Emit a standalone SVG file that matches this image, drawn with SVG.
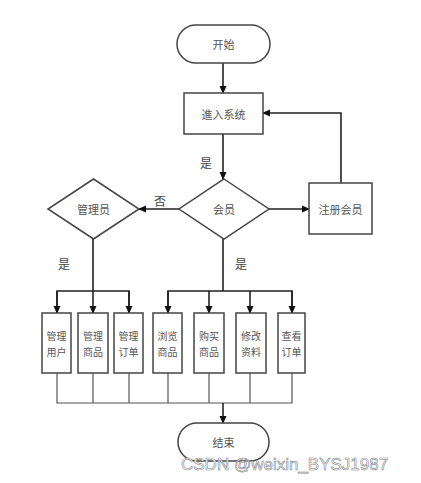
<svg xmlns="http://www.w3.org/2000/svg" width="421" height="483" viewBox="0 0 421 483">
<defs>
<marker id="ah" markerWidth="8" markerHeight="8" refX="7" refY="4" orient="auto" markerUnits="userSpaceOnUse">
<path d="M0,0.5 L8,4 L0,7.5 Z" fill="#111"/>
</marker>
<style>
.shape{fill:#fff;stroke:#444;stroke-width:1.5}
.t{font-family:"Noto Sans CJK SC","Liberation Sans",sans-serif;font-size:11px;fill:#555;text-anchor:middle;dominant-baseline:central}
.t2{font-family:"Noto Sans CJK SC","Liberation Sans",sans-serif;font-size:10px;fill:#555;text-anchor:middle;dominant-baseline:central}
.lbl{font-family:"Noto Sans CJK SC","Liberation Serif",serif;font-size:12px;fill:#444;text-anchor:middle;dominant-baseline:central}
.ln{fill:none;stroke:#222;stroke-width:1.6}
.ln2{fill:none;stroke:#555;stroke-width:1.2}
.arr{fill:none;stroke:#222;stroke-width:1.6;marker-end:url(#ah)}
.wm{font-family:"Liberation Sans",Arial,sans-serif;font-size:17px;fill:#fff;stroke:#888;stroke-width:0.6}
</style>
</defs>
<rect width="421" height="483" fill="#fff"/>
<g id="connectors">
<path class="arr" d="M223,63 V93"/>
<path class="arr" d="M223,134 V179"/>
<path class="arr" d="M179,209 H139"/>
<path class="arr" d="M269,209 H309"/>
<path class="arr" d="M341,183 V113 H263"/>
<path class="ln" d="M93,239 V291"/>
<path class="ln" d="M57,313 V291 H129 V313"/>
<path class="arr" d="M57,291 V313"/>
<path class="arr" d="M93,291 V313"/>
<path class="arr" d="M129,291 V313"/>
<path class="ln" d="M223,239 V291"/>
<path class="ln" d="M168,313 V291 H292 V313"/>
<path class="arr" d="M168,291 V313"/>
<path class="arr" d="M209,291 V313"/>
<path class="arr" d="M250,291 V313"/>
<path class="arr" d="M292,291 V313"/>
<path class="ln2" d="M57,373 V403 H292 V373 M93,373 V403 M129,373 V403 M168,373 V403 M209,373 V403 M250,373 V403"/>
<path class="arr" d="M223,403 V423"/>
<text class="lbl" x="206" y="162">是</text>
<text class="lbl" x="160" y="200">否</text>
<text class="lbl" x="64" y="263">是</text>
<text class="lbl" x="241" y="263">是</text>
</g>
<g id="start"><rect class="shape" x="177" y="25" width="93" height="38" rx="19"/><text class="t" x="223.5" y="44">开始</text></g>
<g id="enter"><rect class="shape" x="184" y="93" width="79" height="41"/><text class="t" x="223.5" y="113.5">進入系统</text></g>
<g id="member"><polygon class="shape" points="224,179 269,209 224,239 179,209"/><text class="t" x="224" y="209">会员</text></g>
<g id="admin"><polygon class="shape" points="93.5,179 139,209 93.5,239 48,209"/><text class="t" x="93.5" y="209">管理员</text></g>
<g id="register"><rect class="shape" x="309" y="183" width="63" height="51"/><text class="t" x="340.5" y="208.5">注册会员</text></g>
<g id="manage-users"><rect class="shape" x="42" y="313" width="29" height="60"/><text class="t2" x="56.5" y="335">管理</text><text class="t2" x="56.5" y="351">用户</text></g>
<g id="manage-goods"><rect class="shape" x="78" y="313" width="30" height="60"/><text class="t2" x="93" y="335">管理</text><text class="t2" x="93" y="351">商品</text></g>
<g id="manage-orders"><rect class="shape" x="114" y="313" width="29" height="60"/><text class="t2" x="128.5" y="335">管理</text><text class="t2" x="128.5" y="351">订单</text></g>
<g id="browse"><rect class="shape" x="153" y="313" width="29" height="60"/><text class="t2" x="167.5" y="335">浏览</text><text class="t2" x="167.5" y="351">商品</text></g>
<g id="buy"><rect class="shape" x="194" y="313" width="30" height="60"/><text class="t2" x="209" y="335">购买</text><text class="t2" x="209" y="351">商品</text></g>
<g id="edit"><rect class="shape" x="236" y="313" width="30" height="60"/><text class="t2" x="251" y="335">修改</text><text class="t2" x="251" y="351">资料</text></g>
<g id="view-orders"><rect class="shape" x="278" y="313" width="27" height="60"/><text class="t2" x="291.5" y="335">查看</text><text class="t2" x="291.5" y="351">订单</text></g>
<g id="end"><rect class="shape" x="178" y="423" width="91" height="38" rx="19"/><text class="t" x="223.5" y="442">结束</text></g>
<text class="wm" x="181" y="470">CSDN @weixin_BYSJ1987</text>
</svg>
